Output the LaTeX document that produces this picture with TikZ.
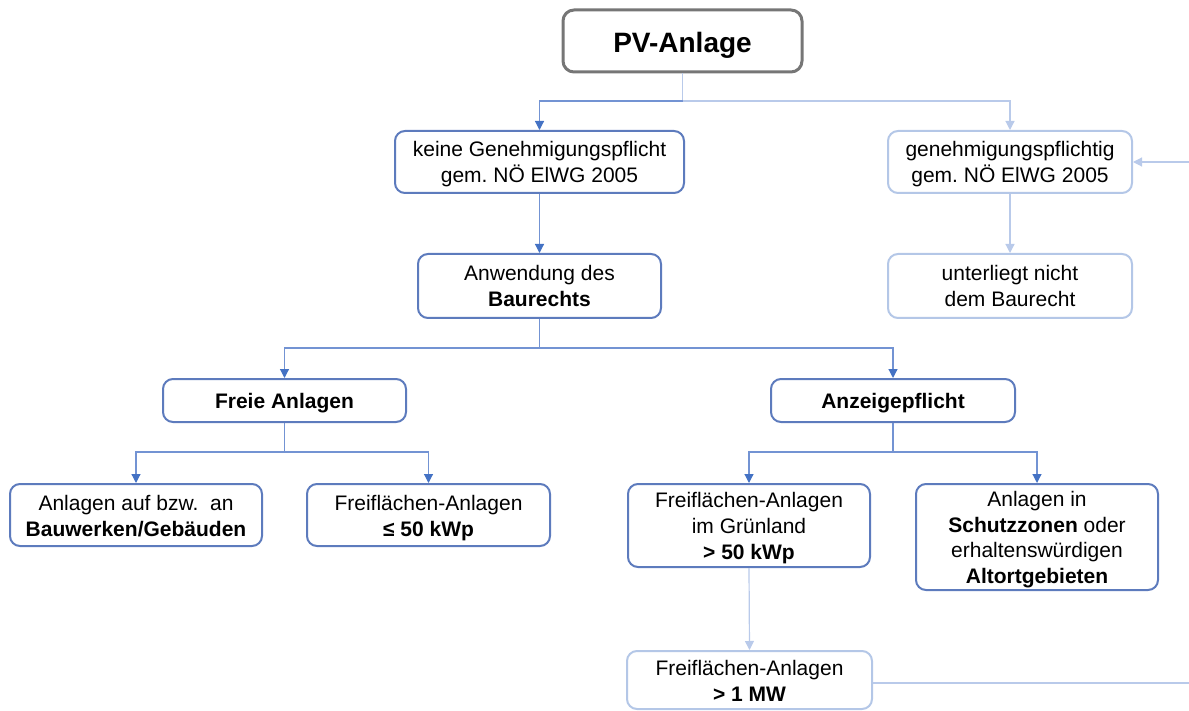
\documentclass[tikz,border=0pt]{standalone}
\usepackage{fontspec}
\setmainfont{Liberation Sans}
\frenchspacing
\usetikzlibrary{arrows.meta}
\definecolor{boxgray}{HTML}{767676}
\definecolor{boxblue}{HTML}{5D7BBD}
\definecolor{boxlite}{HTML}{B4C7E7}
\definecolor{linkblue}{HTML}{7393D3}
\definecolor{tipblue}{HTML}{4472C4}
\definecolor{linklite}{HTML}{B9CAEA}
% invisible struts giving every text block the same top and bottom margin
\newcommand\topstrut{\rule{0pt}{21pt}}
\newcommand\botstrut{\rule[-5pt]{0pt}{5pt}}
\tikzset{
  every node/.style={font=\fontsize{21}{26}\selectfont, align=center, inner sep=0pt},
  box/.style={draw=boxblue, line width=2pt, rounded corners=10pt, fill=white},
  litebox/.style={draw=boxlite, line width=2pt, rounded corners=10pt, fill=white},
  topbox/.style={draw=boxgray, line width=3pt, rounded corners=11pt, fill=white,
    font=\fontsize{28}{32}\selectfont\bfseries},
  link/.style={draw=linkblue, line width=1.2pt},
  linkarrow/.style={link, -{Triangle[width=9pt,length=9pt,fill=tipblue,color=tipblue]}},
  litelink/.style={draw=linklite, line width=1.2pt},
  litearrow/.style={litelink, -{Triangle[width=9pt,length=9pt]}}
}
\begin{document}
\begin{tikzpicture}[x=1pt,y=-1pt]
\useasboundingbox (0,0) rectangle (1189,711);

% boxes
\node[topbox, minimum width=239pt, minimum height=62pt] (pv) at (682.5,41)
  {\rule{0pt}{30pt}PV-Anlage\rule[-6pt]{0pt}{6pt}};
\node[box, minimum width=289pt, minimum height=62pt] (keine) at (539.5,162)
  {\topstrut keine Genehmigungspflicht\\gem. NÖ ElWG 2005\botstrut};
\node[litebox, minimum width=244pt, minimum height=62pt] (gen) at (1010,162)
  {\topstrut genehmigungspflichtig\\gem. NÖ ElWG 2005\botstrut};
\node[box, minimum width=243pt, minimum height=64pt] (anw) at (539.5,286)
  {\topstrut Anwendung des\\\textbf{Baurechts}\botstrut};
\node[litebox, minimum width=244pt, minimum height=64pt] (unt) at (1010,286)
  {\topstrut unterliegt nicht\\dem Baurecht\botstrut};
\node[box, minimum width=243pt, minimum height=43pt, font=\fontsize{21}{26}\selectfont\bfseries] (freie) at (284.5,400.5)
  {\topstrut Freie Anlagen\botstrut};
\node[box, minimum width=244pt, minimum height=43pt, font=\fontsize{21}{26}\selectfont\bfseries] (anz) at (893,400.5)
  {\topstrut Anzeigepflicht\botstrut};
\node[box, minimum width=252pt, minimum height=62pt] (auf) at (136,515)
  {\topstrut Anlagen auf bzw.\ \ an\\\textbf{Bauwerken/Gebäuden}\botstrut};
\node[box, minimum width=243pt, minimum height=62pt] (fr50) at (428.5,515)
  {\topstrut Freiflächen-Anlagen\\\textbf{≤ 50 kWp}\botstrut};
\node[box, minimum width=242pt, minimum height=83pt] (gruen) at (749,525.5)
  {\topstrut Freiflächen-Anlagen\\im Grünland\\\textbf{> 50 kWp}\botstrut};
\node[box, minimum width=242pt, minimum height=106pt, font=\fontsize{21}{25.5}\selectfont] (schutz) at (1037,537)
  {\topstrut Anlagen in\\\textbf{Schutzzonen} oder\\erhaltenswürdigen\\\textbf{Altortgebieten}\botstrut};
\node[litebox, minimum width=245pt, minimum height=58pt] (mw) at (749.5,680)
  {\topstrut Freiflächen-Anlagen\\\textbf{> 1 MW}\botstrut};

% junction points of the connectors
\coordinate (j1) at (682.5,101);
\coordinate (j2) at (539.5,348);
\coordinate (j3) at (284.5,452);
\coordinate (j4) at (893,452);
\coordinate (rin) at (1189,162);
\coordinate (rout) at (1189,683);

% connectors
\draw[litelink] (pv.south) -- (j1);
\draw[linkarrow] (j1) -| (keine.north);
\draw[litearrow] (j1) -| (gen.north);
\draw[linkarrow] (keine.south) -- (anw.north);
\draw[litearrow] (gen.south) -- (unt.north);
\draw[litearrow] (rin) -- (gen.east);
\draw[link] (anw.south) -- (j2);
\draw[linkarrow] (j2) -| (freie.north);
\draw[linkarrow] (j2) -| (anz.north);
\draw[link] (freie.south) -- (j3);
\draw[linkarrow] (j3) -| (auf.north);
\draw[linkarrow] (j3) -| (fr50.north);
\draw[link] (anz.south) -- (j4);
\draw[linkarrow] (j4) -| (gruen.north);
\draw[linkarrow] (j4) -| (schutz.north);
\draw[litearrow] (gruen.south) -- (mw.north);
\draw[litelink] (mw.east |- rout) -- (rout);
\end{tikzpicture}
\end{document}
